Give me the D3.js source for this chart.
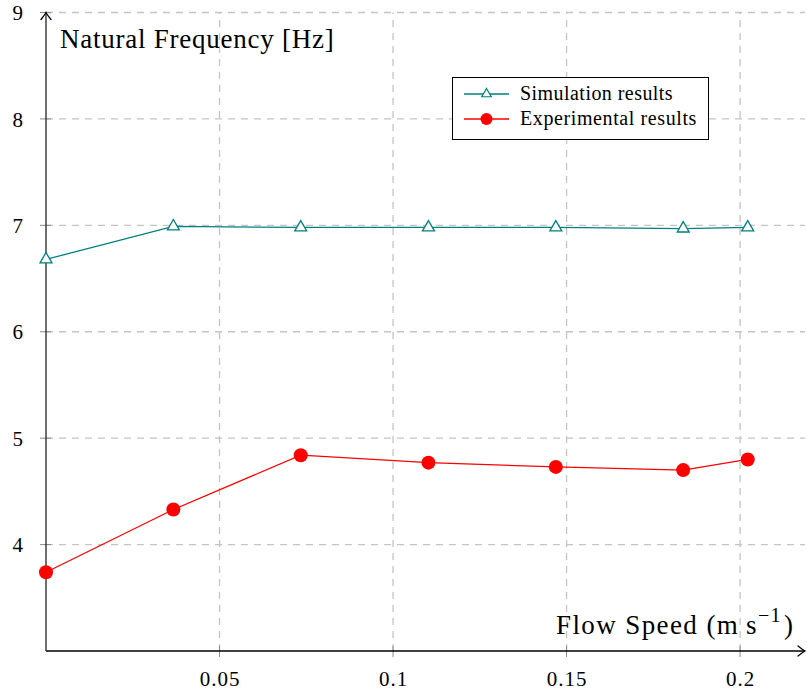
<!DOCTYPE html>
<html>
<head>
<meta charset="utf-8">
<script src="https://cdn.jsdelivr.net/npm/d3@7"></script>
<style>
  html, body { margin: 0; padding: 0; background: #fff; }
  svg { display: block; }
  text { font-family: "Liberation Serif", "Times New Roman", serif; fill: #000; }
</style>
</head>
<body>
<svg id="svg-main" width="807" height="692"></svg>
<script>
// flow speed in m/s and the measured / simulated natural frequencies in Hz
var flowSpeed = [0, 0.0367, 0.0734, 0.1102, 0.1469, 0.1836, 0.2022];
var simulation = [6.68, 6.99, 6.98, 6.98, 6.98, 6.97, 6.98];
var experimental = [3.74, 4.33, 4.84, 4.77, 4.73, 4.70, 4.80];

var xTicks = [0.05, 0.1, 0.15, 0.2];
var yTicks = [4, 5, 6, 7, 8, 9];
var seriesNames = ["Simulation results", "Experimental results"];

var svg = d3.select("#svg-main");

var x = d3.scaleLinear().domain([0, 0.2187]).range([46, 805]);
var y = d3.scaleLinear().domain([3, 9]).range([651, 12.5]);

function draw_grid() {
    var grid = svg.append("g").attr("id", "grid");

    grid.selectAll("line.gx")
      .data(xTicks)
      .enter()
      .append("line")
      .attr("class", "gx")
      .attr("x1", function(d) { return x(d); })
      .attr("x2", function(d) { return x(d); })
      .attr("y1", y(3))
      .attr("y2", y(9))
      .attr("stroke", "#c4c4c4")
      .attr("stroke-width", 1.3)
      .attr("stroke-dasharray", "7,6");

    grid.selectAll("line.gy")
      .data(yTicks)
      .enter()
      .append("line")
      .attr("class", "gy")
      .attr("x1", x(0))
      .attr("x2", x.range()[1])
      .attr("y1", function(d) { return y(d); })
      .attr("y2", function(d) { return y(d); })
      .attr("stroke", "#c4c4c4")
      .attr("stroke-width", 1.3)
      .attr("stroke-dasharray", "7,6");
}

function draw_axes() {
    // axes cross at the origin, no domain path, short ticks through the line
    var xAxis = d3.axisBottom(x).tickValues(xTicks).tickSize(0).tickFormat(d3.format("~g"));
    var yAxis = d3.axisLeft(y).tickValues(yTicks).tickSize(0).tickFormat(d3.format("d"));

    var gx = svg.append("g")
      .attr("transform", "translate(0," + y(3) + ")")
      .call(xAxis);
    gx.select(".domain").remove();
    gx.selectAll("text")
      .attr("y", 35)
      .attr("dy", 0)
      .style("font-size", "21px")
      .style("letter-spacing", "1px")
      .style("font-family", "Liberation Serif, serif");

    var gy = svg.append("g")
      .attr("transform", "translate(" + x(0) + ",0)")
      .call(yAxis);
    gy.select(".domain").remove();
    gy.selectAll("text")
      .attr("x", -23)
      .attr("dy", "0.34em")
      .style("font-size", "21px")
      .style("font-family", "Liberation Serif, serif");

    svg.selectAll("line.tx")
      .data(xTicks)
      .enter()
      .append("line")
      .attr("x1", function(d) { return x(d); })
      .attr("x2", function(d) { return x(d); })
      .attr("y1", y(3) - 5)
      .attr("y2", y(3) + 6)
      .attr("stroke", "#8a8a8a")
      .attr("stroke-width", 1);

    svg.selectAll("line.ty")
      .data(yTicks)
      .enter()
      .append("line")
      .attr("x1", x(0) - 6)
      .attr("x2", x(0) + 5)
      .attr("y1", function(d) { return y(d); })
      .attr("y2", function(d) { return y(d); })
      .attr("stroke", "#8a8a8a")
      .attr("stroke-width", 1);

    svg.append("line")
      .attr("x1", x(0))
      .attr("x2", x.range()[1])
      .attr("y1", y(3))
      .attr("y2", y(3))
      .attr("stroke", "#000")
      .attr("stroke-width", 1.3);

    svg.append("line")
      .attr("x1", x(0))
      .attr("x2", x(0))
      .attr("y1", y(3))
      .attr("y2", y(9))
      .attr("stroke", "#222")
      .attr("stroke-width", 1.3);

    // arrow heads
    svg.append("path")
      .attr("d", "M -7 -5 Q -2 -1 0 0 Q -2 1 -7 5")
      .attr("transform", "translate(" + x.range()[1] + "," + y(3) + ")")
      .attr("fill", "none")
      .attr("stroke", "#000")
      .attr("stroke-width", 1.3)
      .attr("stroke-linecap", "round");

    svg.append("path")
      .attr("d", "M -7 -5 Q -2 -1 0 0 Q -2 1 -7 5")
      .attr("transform", "translate(" + x(0) + "," + y(9) + ") rotate(-90)")
      .attr("fill", "none")
      .attr("stroke", "#000")
      .attr("stroke-width", 1.3)
      .attr("stroke-linecap", "round");

    svg.append("text")
      .attr("x", 60)
      .attr("y", 48)
      .style("font-size", "27px")
      .style("letter-spacing", "0.75px")
      .text("Natural Frequency [Hz]");

    var xl = svg.append("text")
      .attr("x", 556)
      .attr("y", 634)
      .style("font-size", "27px")
      .style("letter-spacing", "1.4px");
    xl.append("tspan").text("Flow Speed (m\u2009s");
    xl.append("tspan").attr("dy", -12).style("font-size", "20px").text("\u22121");
    xl.append("tspan").attr("dy", 12).attr("dx", 2).text(")");
}

function triangle(r) {
    var w = r * Math.sin(Math.PI / 3);
    return "M 0 " + (-r) + " L " + w + " " + (r / 2) + " L " + (-w) + " " + (r / 2) + " Z";
}

function draw_series() {
    var pts = flowSpeed.map(function(d, i) { return [d, simulation[i], experimental[i]]; });

    var simLine = d3.line()
      .x(function(d) { return x(d[0]); })
      .y(function(d) { return y(d[1]); });
    var expLine = d3.line()
      .x(function(d) { return x(d[0]); })
      .y(function(d) { return y(d[2]); });

    svg.append("path")
      .attr("d", simLine(pts))
      .attr("fill", "none")
      .attr("stroke", "#008080")
      .attr("stroke-width", 1.3);

    svg.selectAll("path.sim")
      .data(pts)
      .enter()
      .append("path")
      .attr("class", "sim")
      .attr("d", triangle(6.9))
      .attr("transform", function(d) { return "translate(" + x(d[0]) + "," + y(d[1]) + ")"; })
      .attr("fill", "#fff")
      .attr("stroke", "#008080")
      .attr("stroke-width", 1.3);

    svg.append("path")
      .attr("d", expLine(pts))
      .attr("fill", "none")
      .attr("stroke", "#ff0000")
      .attr("stroke-width", 1.3);

    svg.selectAll("circle.exp")
      .data(pts)
      .enter()
      .append("circle")
      .attr("class", "exp")
      .attr("cx", function(d) { return x(d[0]); })
      .attr("cy", function(d) { return y(d[2]); })
      .attr("r", 7)
      .attr("fill", "#ff0000");
}

function draw_legend() {
    var lg = svg.append("g").attr("id", "legend");

    lg.append("rect")
      .attr("x", 452.5)
      .attr("y", 77.5)
      .attr("width", 256)
      .attr("height", 62)
      .attr("fill", "#fff")
      .attr("stroke", "#000")
      .attr("stroke-width", 1);

    var rows = [94, 119];
    var colors = ["#008080", "#ff0000"];
    var spacing = ["0.45px", "0.6px"];

    seriesNames.forEach(function(name, i) {
        lg.append("line")
          .attr("x1", 464)
          .attr("x2", 509)
          .attr("y1", rows[i])
          .attr("y2", rows[i])
          .attr("stroke", colors[i])
          .attr("stroke-width", 1.3);

        if (i === 0) {
            lg.append("path")
              .attr("d", triangle(5.5))
              .attr("transform", "translate(486.5," + rows[i] + ")")
              .attr("fill", "#fff")
              .attr("stroke", colors[i])
              .attr("stroke-width", 1.2);
        } else {
            lg.append("circle")
              .attr("cx", 486.5)
              .attr("cy", rows[i])
              .attr("r", 6)
              .attr("fill", colors[i]);
        }

        lg.append("text")
          .attr("x", 520)
          .attr("y", rows[i])
          .attr("dy", "0.32em")
          .style("font-size", "20px")
          .style("letter-spacing", spacing[i])
          .text(name);
    });
}

draw_grid();
draw_axes();
draw_series();
draw_legend();
</script>
</body>
</html>
